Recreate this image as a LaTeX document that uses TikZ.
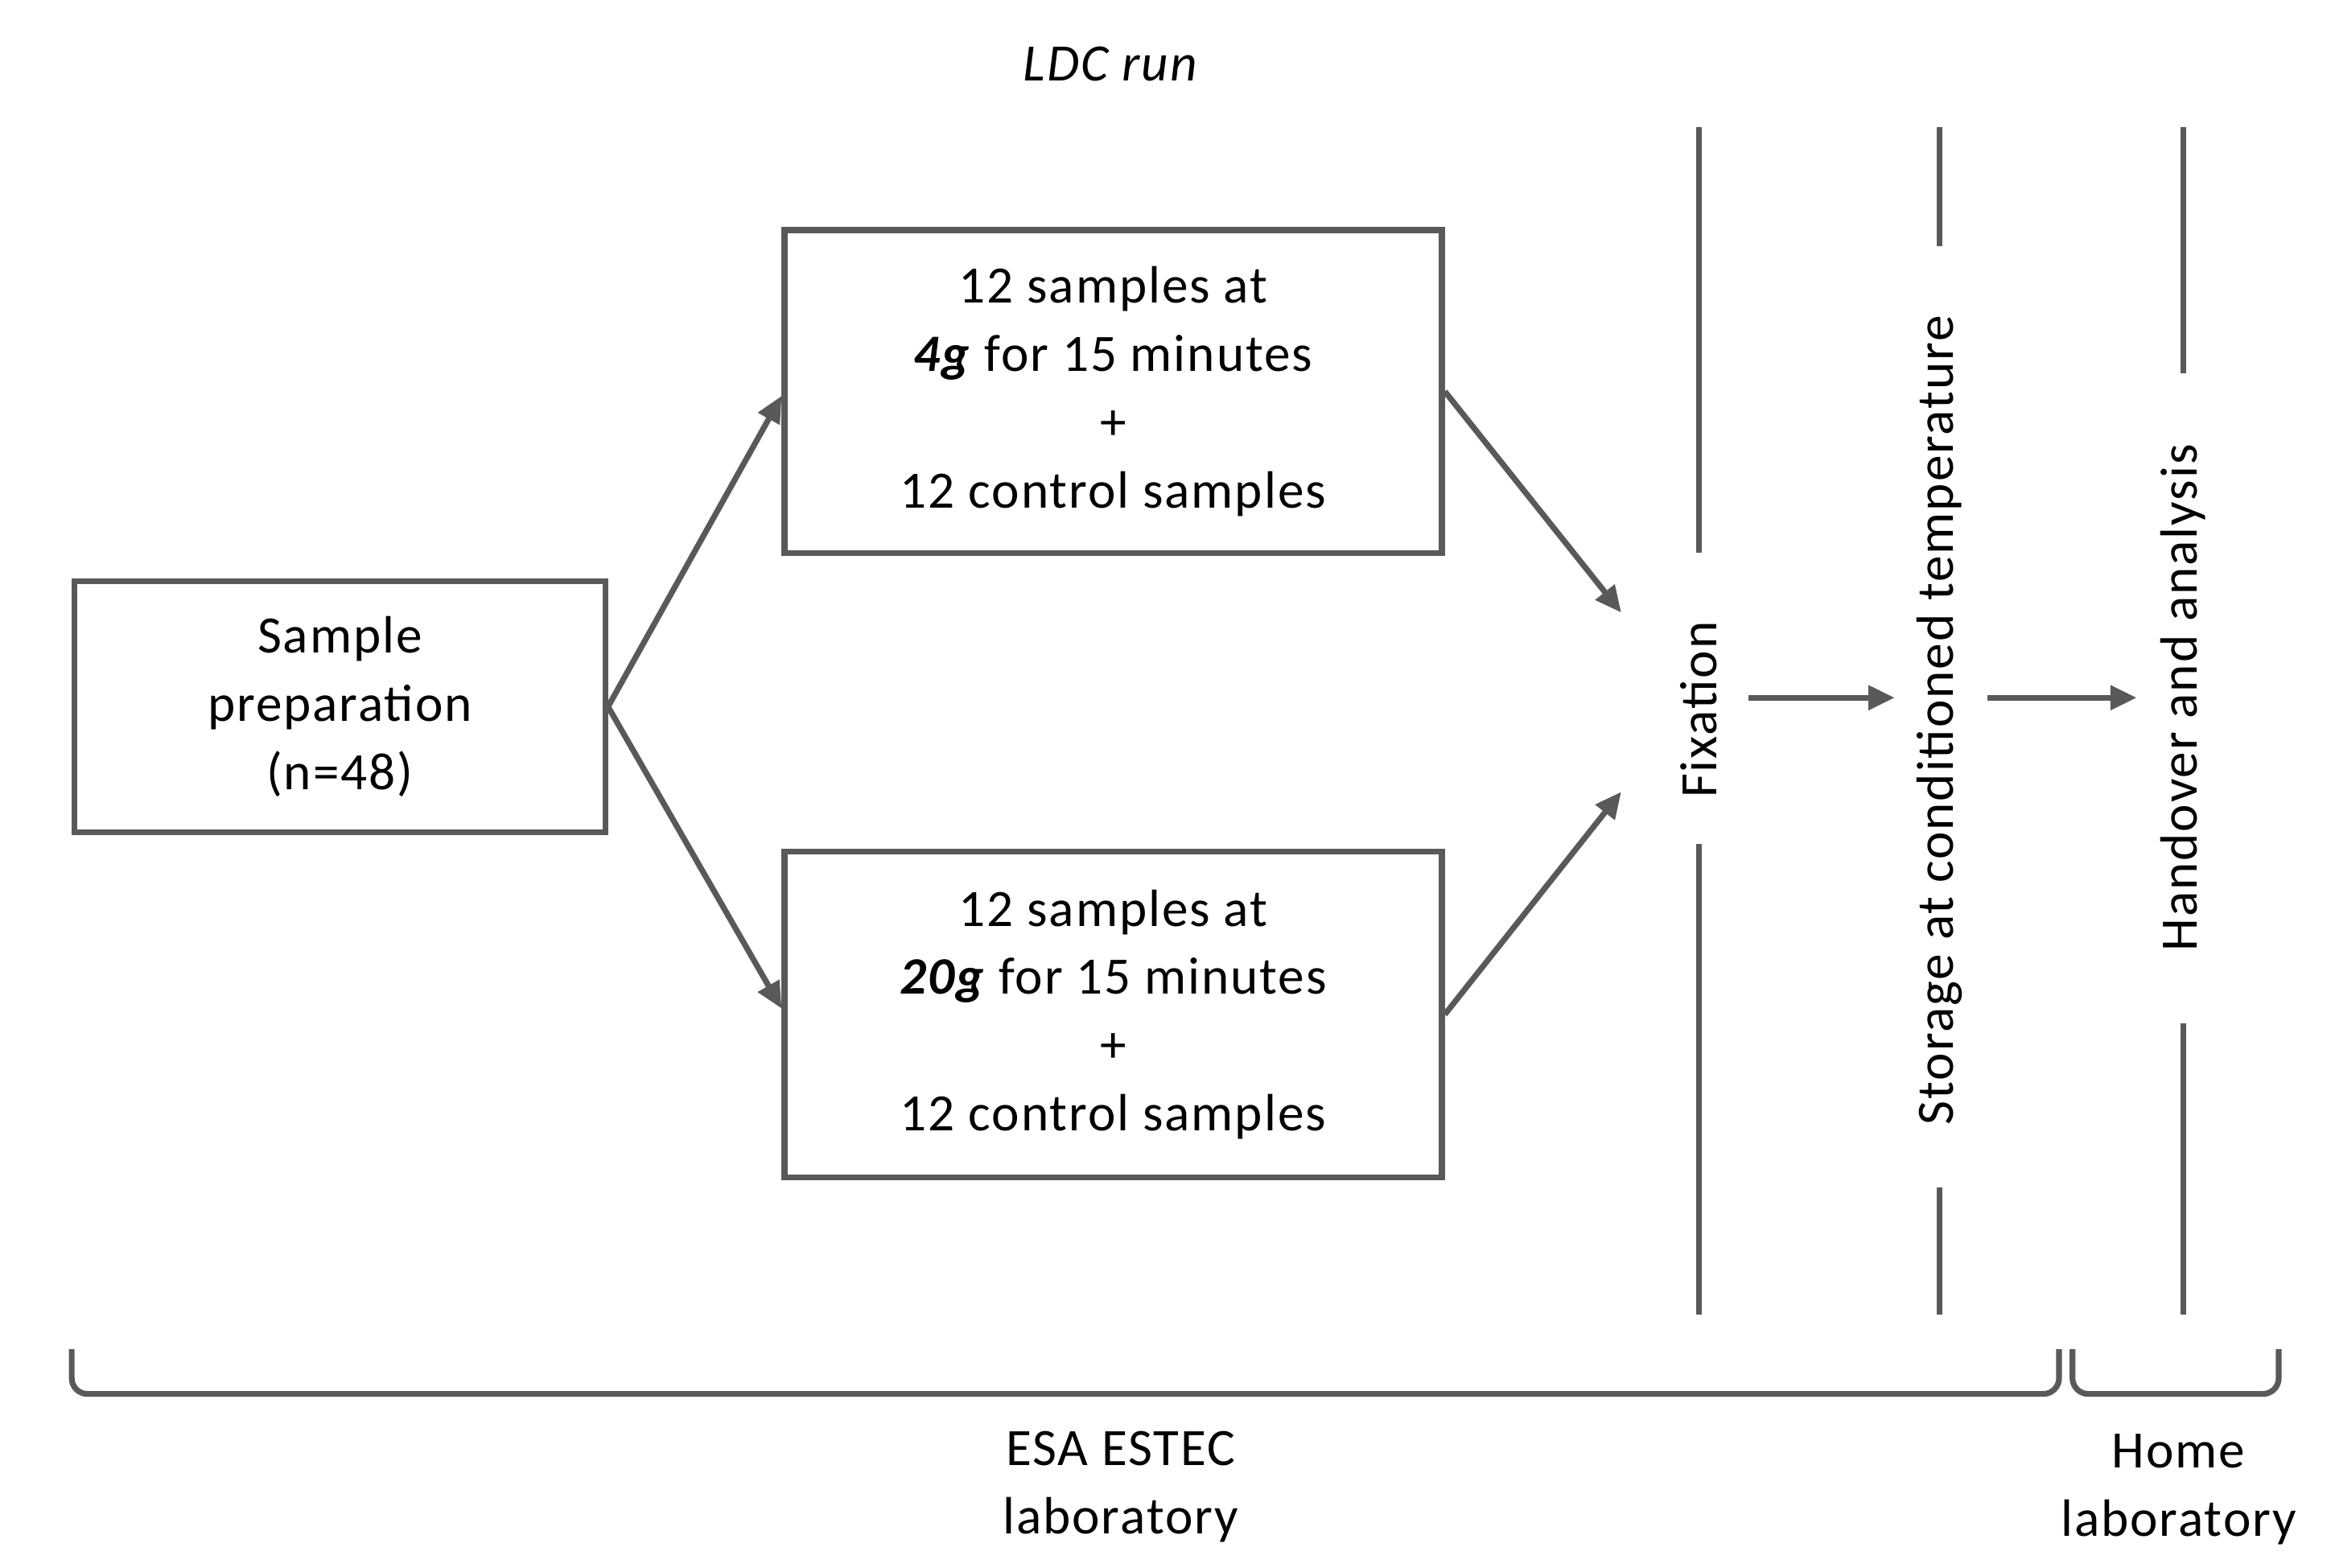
\documentclass[tikz,border=0pt]{standalone}
\usepackage{fontspec}
\setmainfont{Carlito}[LetterSpace=3]
\usetikzlibrary{arrows.meta}
\definecolor{g}{HTML}{595959}
\begin{document}
\begin{tikzpicture}[x=0.02cm,y=-0.02cm,
  box/.style={draw=g,line width=2.2pt,inner sep=0,align=center,font=\fontsize{20}{26}\selectfont},
  txt/.style={align=center,font=\fontsize{20}{26}\selectfont},
  arr/.style={draw=g,line width=2.2pt,-{Triangle[length=10pt,width=9pt]}},
  ln/.style={draw=g,line width=2.2pt}]
\useasboundingbox (0,0) rectangle (1560,1049);
\node[txt,font=\fontsize{20}{26}\selectfont\itshape] (ldc) at (743,43) {LDC run};
\node[box,minimum width=355*0.02cm,minimum height=168*0.02cm] (prep) at (227.5,473) {Sample\\preparation\\(n=48)};
\node[box,minimum width=440*0.02cm,minimum height=216*0.02cm] (b4) at (745,262) {12 samples at\\\textbf{\textit{4g}} for 15 minutes\\+\\12 control samples};
\node[box,minimum width=440*0.02cm,minimum height=218*0.02cm] (b20) at (745,679) {12 samples at\\\textbf{\textit{20g}} for 15 minutes\\+\\12 control samples};
\node[txt,rotate=90] (fix) at (1137,475) {Fixation};
\node[txt,rotate=90] (sto) at (1298,482) {Storage at conditioned temperature};
\node[txt,rotate=90] (han) at (1461,467) {Handover and analysis};
\coordinate (f1) at (1085,410); \coordinate (f2) at (1085,530);
\draw[arr] (prep.east) -- (b4.west |- 0,265);
\draw[arr] (prep.east) -- (b20.west |- 0,675);
\draw[arr] (b4.east) -- (f1);
\draw[arr] (b20.east) -- (f2);
\coordinate (a1) at (1170,467); \coordinate (a2) at (1268,467);
\coordinate (a3) at (1330,467); \coordinate (a4) at (1430,467);
\draw[arr] (a1) -- (a2);
\draw[arr] (a3) -- (a4);
\draw[ln] (1137,85) -- (1137,370) (1137,565) -- (1137,880);
\draw[ln] (1298,85) -- (1298,165) (1298,795) -- (1298,880);
\draw[ln] (1461,85) -- (1461,250) (1461,685) -- (1461,880);
\draw[ln,rounded corners=6pt] (48,903) -- (48,933) -- (1378,933) -- (1378,903);
\draw[ln,rounded corners=6pt] (1387,903) -- (1387,933) -- (1525,933) -- (1525,903);
\node[txt] (esa) at (750,995) {ESA ESTEC\\laboratory};
\node[txt] (home) at (1458,997) {Home\\laboratory};
\end{tikzpicture}
\end{document}
